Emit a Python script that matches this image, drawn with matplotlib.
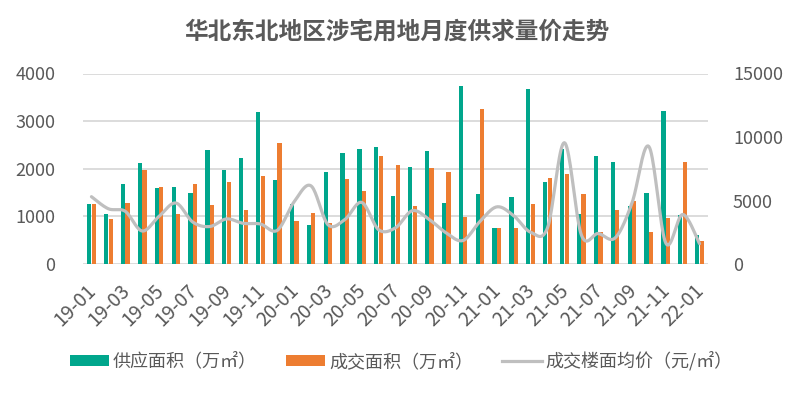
import numpy as np
import matplotlib
matplotlib.use("Agg")
import matplotlib.pyplot as plt
import matplotlib.transforms as mtransforms
from matplotlib.lines import Line2D
from matplotlib.patches import Patch

plt.rcParams['font.family'] = ['Noto Sans CJK SC', 'DejaVu Sans']

months = ['19-01','19-02','19-03','19-04','19-05','19-06','19-07','19-08','19-09','19-10','19-11','19-12',
          '20-01','20-02','20-03','20-04','20-05','20-06','20-07','20-08','20-09','20-10','20-11','20-12',
          '21-01','21-02','21-03','21-04','21-05','21-06','21-07','21-08','21-09','21-10','21-11','21-12',
          '22-01']
supply = [1250, 1060, 1690, 2130, 1600, 1620, 1500, 2400, 1980, 2230, 3200, 1770,
          1270, 825, 1940, 2340, 2420, 2460, 1430, 2040, 2380, 1290, 3740, 1480,
          765, 1410, 3680, 1730, 2420, 1040, 2270, 2150, 1225, 1500, 3220, 1035,
          615]
deal = [1250, 950, 1290, 1980, 1620, 1040, 1690, 1245, 1730, 1140, 1850, 2545,
        910, 1080, 870, 1790, 1540, 2270, 2085, 1225, 2020, 1940, 995, 3260,
        765, 765, 1265, 1810, 1895, 1475, 680, 1140, 1330, 680, 975, 2150,
        490]
price = [5300, 4350, 4150, 2600, 3750, 4800, 3300, 2950, 3550, 3200, 3150, 2650,
         4900, 6150, 3100, 3500, 4850, 2700, 2850, 4200, 3500, 2450, 1850, 3350,
         4500, 3800, 2500, 2850, 9550, 2300, 2400, 2050, 4800, 9250, 1650, 3900,
         1600]

labels = ['供应面积（万㎡）', '成交面积（万㎡）', '成交楼面均价（元/㎡）']
title = '华北东北地区涉宅用地月度供求量价走势'

GREEN = '#00A68C'
ORANGE = '#ED7D31'
GREY = '#BFBFBF'
TXT = '#595959'
GRID = '#D9D9D9'

def catmull_rom(y, n=20):
    y = np.asarray(y, float)
    x = np.arange(len(y), dtype=float)
    P = np.column_stack([x, y])
    P = np.vstack([P[0], P, P[-1]])
    out = []
    for i in range(1, len(P) - 2):
        p0, p1, p2, p3 = P[i-1], P[i], P[i+1], P[i+2]
        c1 = p1 + (p2 - p0) / 6.0
        c2 = p2 - (p3 - p1) / 6.0
        t = np.linspace(0, 1, n, endpoint=(i == len(P) - 3))[:, None]
        seg = ((1-t)**3) * p1 + 3*((1-t)**2)*t*c1 + 3*(1-t)*(t**2)*c2 + (t**3)*p2
        out.append(seg)
    out = np.vstack(out)
    return out[:, 0], out[:, 1]

fig = plt.figure(figsize=(7.93, 3.95), dpi=100)
ax = fig.add_axes([83/793, 1-264/395, (708-83)/793, (264-73.5)/395])
x = np.arange(len(months))
w = 0.25
ax.bar(x - w/2 - 0.01, supply, width=w, color=GREEN, zorder=3)
ax.bar(x + w/2 + 0.01, deal, width=w, color=ORANGE, zorder=3)
ax.set_xlim(-0.5, len(months) - 0.5)
ax.set_ylim(0, 4000)
ax.set_yticks([0, 1000, 2000, 3000, 4000])
ax.grid(axis='y', color=GRID, linewidth=1.3, zorder=0)
ax.set_axisbelow(True)
for s in ax.spines.values():
    s.set_visible(False)
ax.tick_params(axis='y', length=0, pad=20, labelsize=13, labelcolor=TXT)
ax.set_xticks(x[::2])
ax.set_xticklabels(months[::2], rotation=45, ha='right', va='top', rotation_mode='anchor')
ax.tick_params(axis='x', length=0, pad=10, labelsize=14, labelcolor=TXT)
off = mtransforms.ScaledTranslation(-6/100, -2/100, fig.dpi_scale_trans)
for lbl in ax.get_xticklabels():
    lbl.set_transform(lbl.get_transform() + off)

ax2 = ax.twinx()
sx, sy = catmull_rom(price)
ax2.plot(sx, sy, color=GREY, linewidth=2.3, solid_capstyle='round', zorder=4)
ax2.set_ylim(0, 15000)
ax2.set_yticks([0, 5000, 10000, 15000])
for s in ax2.spines.values():
    s.set_visible(False)
ax2.tick_params(axis='y', length=0, pad=18, labelsize=13, labelcolor=TXT)

fig.text(397/793, 1-32/395, title, ha='center', va='center', fontsize=17,
         fontweight='bold', color=TXT)

handles = [Patch(facecolor=GREEN, edgecolor='none'),
           Patch(facecolor=ORANGE, edgecolor='none'),
           Line2D([0], [0], color=GREY, linewidth=2.3)]
leg = fig.legend(handles, labels, loc='center', bbox_to_anchor=(401/793, 1-361/395),
                 ncol=3, frameon=False, fontsize=13, handlelength=2.2, handleheight=0.55,
                 handletextpad=0.2, columnspacing=1.6, labelcolor=TXT)

fig.savefig('out.png', dpi=100, facecolor='white')
